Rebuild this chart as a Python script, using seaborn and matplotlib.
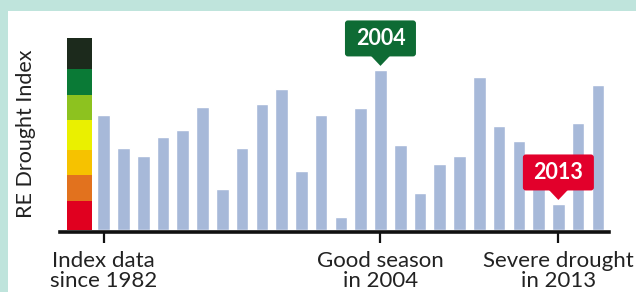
import matplotlib
matplotlib.use('Agg')
import matplotlib.pyplot as plt
import seaborn as sns
from matplotlib.patches import Rectangle, FancyBboxPatch, Polygon

# RE drought index per season (0-100 scale, top of colour key = 100)
years = list(range(1990, 2016))
index_values = [60.1, 42.7, 38.7, 48.6, 52.2, 64.1, 21.4, 42.9, 65.8, 73.6,
                30.9, 60.1, 6.9, 63.7, 83.5, 44.4, 19.4, 34.5, 38.7, 79.8,
                54.3, 46.5, 30.4, 13.7, 55.9, 75.7]

# colour key (bottom -> top), segment boundaries on the same scale
key_bounds = [0, 15.4, 28.8, 41.8, 57.4, 70.5, 83.9, 100]
key_colors = ['#e0001f', '#e2721e', '#f6c200', '#eaf000', '#8dc21f', '#0a7a36', '#1c2a1c']

tick_years = [1990, 2004, 2013]
tick_labels = ['Index data\nsince 1982', 'Good season\nin 2004', 'Severe drought\nin 2013']

callout_years = [2004, 2013]
callout_colors = ['#0e6b34', '#e2002b']

frame = '#bfe4dc'
bar_color = '#a7b9d9'

sns.set_style('white')
plt.rcParams['font.family'] = ['Lato', 'DejaVu Sans']

fig = plt.figure(figsize=(6.36, 2.92), dpi=100, facecolor=frame)
fig.add_artist(Rectangle((8 / 636, 0), 1, 1 - 11 / 292, transform=fig.transFigure,
                         fc='white', ec='none', zorder=-10))

ax = fig.add_axes([60 / 636, 1 - 232 / 292, 549 / 636, 217 / 292])
ax.set_facecolor('none')

sns.barplot(x=years, y=index_values, color=bar_color, saturation=1, width=0.64, ax=ax)

# colour key to the left of the first bar
for lo, hi, c in zip(key_bounds[:-1], key_bounds[1:], key_colors):
    ax.bar(-1.24, hi - lo, bottom=lo, width=1.26, color=c, linewidth=0)

ax.set_xlim(-2.21, 25.56)
ax.set_ylim(-0.9, 112.1)

pos = [years.index(y) for y in tick_years]
ax.set_xticks(pos)
ax.set_xticklabels(tick_labels, fontsize=16, color='#222222')
for lab in ax.get_xticklabels():
    lab.set_linespacing(1.0)
ax.tick_params(axis='x', bottom=True, direction='out', length=8, width=1.6,
               color='#111111', pad=6)
ax.set_yticks([])
ax.set_xlabel('')
ax.set_ylabel('')
for s in ['left', 'top', 'right']:
    ax.spines[s].set_visible(False)
ax.spines['bottom'].set_linewidth(2.6)
ax.spines['bottom'].set_color('#111111')

# callout boxes above 2004 and 2013
xu = 549 / (25.56 + 2.21)   # px per x unit
yu = 217 / 113.0            # px per y unit
box_w, box_h = 71 / xu, 36 / yu
gap, tip = 13.5 / yu, 4 / yu
for yr, c in zip(callout_years, callout_colors):
    i = years.index(yr)
    v = index_values[i]
    bottom = v + gap
    ax.add_patch(FancyBboxPatch((i - box_w / 2, bottom), box_w, box_h,
                                boxstyle='round,pad=0,rounding_size=0.15',
                                mutation_aspect=xu / yu, fc=c, ec='none', zorder=5))
    ax.add_patch(Polygon([(i - 0.5, bottom + 0.5), (i + 0.5, bottom + 0.5), (i, v + tip)],
                         closed=True, fc=c, ec='none', zorder=5))
    ax.text(i, bottom + box_h / 2, str(yr), ha='center', va='center', color='white',
            fontsize=15.5, fontweight='bold', zorder=6)

fig.text(26 / 636, 1 - 134 / 292, 'RE Drought Index', rotation=90, ha='center', va='center',
         fontsize=15.5, color='#222222')

fig.savefig('out.png', dpi=100, facecolor=fig.get_facecolor())
